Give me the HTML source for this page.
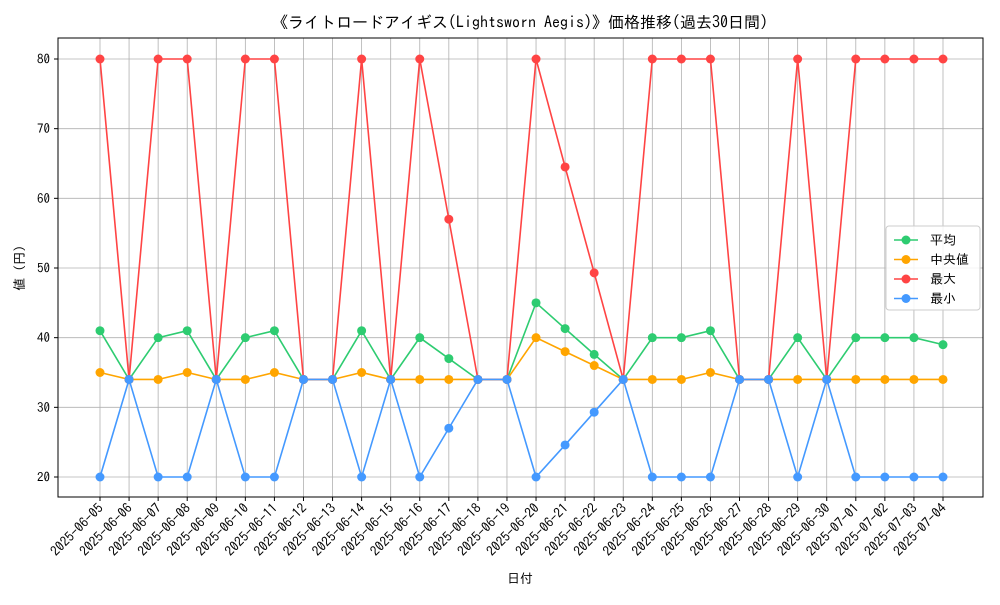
<!DOCTYPE html>
<html><head><meta charset="utf-8">
<style>
body{margin:0;background:#fff;}
svg text{font-family:"IPAGothic","Noto Sans CJK JP",sans-serif;fill:#000;}
</style></head>
<body>
<svg id="chart" width="1000" height="600" xmlns="http://www.w3.org/2000/svg">
<rect width="1000" height="600" fill="#fff"/>
<text x="520" y="28" font-size="16" text-anchor="middle">《ライトロードアイギス(Lightsworn Aegis)》価格推移(過去30日間)</text>
<g id="grid"></g>
<g id="axes"></g>
<g id="series"></g>
<rect x="58" y="38" width="925" height="459" fill="none" stroke="#000" stroke-width="1"/>
<text x="520" y="583" font-size="13" text-anchor="middle">日付</text>
<text transform="translate(24,268) rotate(-90)" font-size="13" text-anchor="middle">値 (円)</text>
<g id="legend">
<rect x="886" y="226" width="94" height="84" fill="#fff" fill-opacity="0.85" stroke="#ccc" rx="3"/>
</g>
</svg>
<script>
const dates=["2025-06-05","2025-06-06","2025-06-07","2025-06-08","2025-06-09","2025-06-10","2025-06-11","2025-06-12","2025-06-13","2025-06-14","2025-06-15","2025-06-16","2025-06-17","2025-06-18","2025-06-19","2025-06-20","2025-06-21","2025-06-22","2025-06-23","2025-06-24","2025-06-25","2025-06-26","2025-06-27","2025-06-28","2025-06-29","2025-06-30","2025-07-01","2025-07-02","2025-07-03","2025-07-04"];
const meanVals=[41,34,40,41,34,40,41,34,34,41,34,40,37,34,34,45,41.3,37.6,34,40,40,41,34,34,40,34,40,40,40,39];
const medianVals=[35,34,34,35,34,34,35,34,34,35,34,34,34,34,34,40,38,36,34,34,34,35,34,34,34,34,34,34,34,34];
const maxVals=[80,34,80,80,34,80,80,34,34,80,34,80,57,34,34,80,64.5,49.3,34,80,80,80,34,34,80,34,80,80,80,80];
const minVals=[20,34,20,20,34,20,20,34,34,20,34,20,27,34,34,20,24.6,29.3,34,20,20,20,34,34,20,34,20,20,20,20];
const yTicks=[20,30,40,50,60,70,80];
const seriesNames=["平均","中央値","最大","最小"];
const NS="http://www.w3.org/2000/svg";
const xs=i=>100+i*(843/(dates.length-1));
const ys=v=>477-(v-20)*(418/60);
function mk(tag,attrs,parent){const e=document.createElementNS(NS,tag);for(const k in attrs)e.setAttribute(k,attrs[k]);parent.appendChild(e);return e;}
const grid=document.getElementById('grid'),axes=document.getElementById('axes'),ser=document.getElementById('series'),leg=document.getElementById('legend');
dates.forEach((d,i)=>{
  const x=xs(i);
  const gl=mk('line',{x1:x,x2:x,y1:38,y2:497,stroke:'#b0b0b0','stroke-width':0.8},grid);
  
  
  mk('line',{x1:x,x2:x,y1:497,y2:501,stroke:'#000'},axes);
  const t=mk('text',{x:x+4,y:509,'font-size':13.5,'text-anchor':'end',transform:`rotate(-45 ${x+4} 509)`},axes);
  t.textContent=d;
  
  
});
yTicks.forEach(v=>{
  const y=ys(v);
  const gl=mk('line',{x1:58,x2:983,y1:y,y2:y,stroke:'#b0b0b0','stroke-width':0.8},grid);
  
  
  mk('line',{x1:54,x2:58,y1:y,y2:y,stroke:'#000'},axes);
  const t=mk('text',{x:50,y:y+4.5,'font-size':13,'text-anchor':'end'},axes);
  t.textContent=v;
  
  
});
const allSeries=[[meanVals,'#2ecc71','mean'],[medianVals,'#ffa500','median'],[maxVals,'#ff4444','max'],[minVals,'#4499ff','min']];
allSeries.forEach(([vals,col,key],si)=>{
  const g=mk('g',{},ser);
  
  
  const pl=mk('polyline',{points:vals.map((v,i)=>xs(i)+','+ys(v)).join(' '),fill:'none',stroke:col,'stroke-width':1.6},g);
  
  
  vals.forEach((v,i)=>{
    const c=mk('circle',{cx:xs(i),cy:ys(v),r:4.5,fill:col},g);
    
    
  });
  const ly=240+si*19.5;
  const lg=mk('g',{},leg);
  
  
  mk('line',{x1:894,x2:918,y1:ly,y2:ly,stroke:col,'stroke-width':1.6},lg);
  mk('circle',{cx:906,cy:ly,r:4.5,fill:col},lg);
  const t=mk('text',{x:930,y:ly+4.5,'font-size':13},lg);
  t.textContent=seriesNames[si];
});
</script>
</body></html>
